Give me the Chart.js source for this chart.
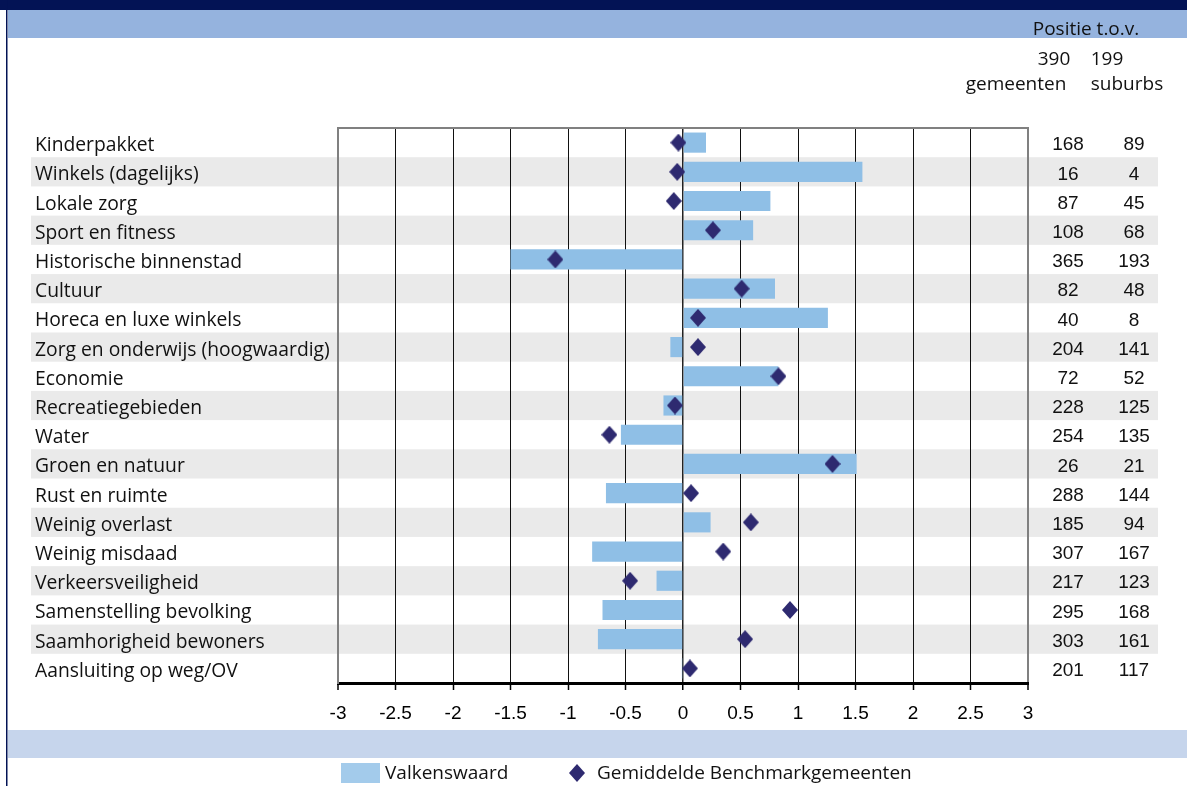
<!DOCTYPE html>
<html><head><meta charset="utf-8">
<script src="https://cdn.jsdelivr.net/npm/chart.js@4.4.1/dist/chart.umd.min.js"></script>
<style>html,body{margin:0;padding:0;background:#fff;overflow:hidden}
#wrap{position:relative;width:1187px;height:786px}</style>
</head><body><div id="wrap"><canvas id="c" width="1187" height="786"></canvas></div>
<script>
const categories = ["Kinderpakket","Winkels (dagelijks)","Lokale zorg","Sport en fitness","Historische binnenstad","Cultuur","Horeca en luxe winkels","Zorg en onderwijs (hoogwaardig)","Economie","Recreatiegebieden","Water","Groen en natuur","Rust en ruimte","Weinig overlast","Weinig misdaad","Verkeersveiligheid","Samenstelling bevolking","Saamhorigheid bewoners","Aansluiting op weg/OV"];
const valkenswaard = [0.20,1.56,0.76,0.61,-1.50,0.80,1.26,-0.11,0.83,-0.17,-0.54,1.51,-0.67,0.24,-0.79,-0.23,-0.70,-0.74,-0.01];
const benchmark = [-0.04,-0.05,-0.08,0.26,-1.11,0.51,0.13,0.13,0.83,-0.07,-0.64,1.30,0.07,0.59,0.35,-0.46,0.93,0.54,0.06];
const rankGemeenten = [168,16,87,108,365,82,40,204,72,228,254,26,288,185,307,217,295,303,201];
const rankSuburbs = [89,4,45,68,193,48,8,141,52,125,135,21,144,94,167,123,168,161,117];
const xTickValues = [-3,-2.5,-2,-1.5,-1,-0.5,0,0.5,1,1.5,2,2.5,3];
const seriesNames = ["Valkenswaard","Gemiddelde Benchmarkgemeenten"];
const headerTitle = "Positie t.o.v.";
const headerCounts = ["390","199"];
const headerGroups = ["gemeenten","suburbs"];

const BAR = '#8FBFE6', DIA = '#2E2A70', NAVY = '#031355';
const LABEL_FONT = '"Open Sans", sans-serif';
const NUM_FONT = '"Liberation Sans", Arial, sans-serif';

function diamondImg(w, h, color) {
  const c = document.createElement('canvas'); c.width = w; c.height = h;
  const g = c.getContext('2d'); g.fillStyle = color;
  g.beginPath(); g.moveTo(w/2,0); g.lineTo(w,h/2); g.lineTo(w/2,h); g.lineTo(0,h/2); g.closePath(); g.fill();
  return c;
}
const dia = diamondImg(16, 18, DIA);

const deco = {
  id: 'deco',
  beforeDraw(chart) {
    const ctx = chart.ctx, y = chart.scales.y, W = chart.width, H = chart.height;
    ctx.save();
    ctx.fillStyle = '#fff'; ctx.fillRect(0,0,W,H);
    ctx.fillStyle = NAVY; ctx.fillRect(0,0,W,10);
    ctx.fillStyle = '#95B3DE'; ctx.fillRect(8,10,W-8,28);
    ctx.fillStyle = '#C6D5EC'; ctx.fillRect(8,730,W-8,28);
    const rowH = Math.abs(y.getPixelForValue(1) - y.getPixelForValue(0));
    ctx.fillStyle = '#EAEAEA';
    categories.forEach((c,i) => {
      if (i % 2 === 1) {
        const cy = y.getPixelForValue(i);
        ctx.fillRect(31, cy - rowH/2, 1158-31, rowH);
      }
    });
    ctx.fillStyle = NAVY; ctx.fillRect(6,0,1.5,H);
    ctx.restore();
  },
  afterDraw(chart) {
    const ctx = chart.ctx, y = chart.scales.y, a = chart.chartArea;
    ctx.save();
    ctx.strokeStyle = '#808080'; ctx.lineWidth = 2;
    ctx.beginPath(); ctx.moveTo(a.left-1, a.top); ctx.lineTo(a.right+1, a.top); ctx.stroke();
    ctx.fillStyle = '#111'; ctx.textBaseline = 'middle'; ctx.textAlign = 'center';
    ctx.font = '19px ' + LABEL_FONT;
    ctx.fillText(headerTitle, 1086, 30);
    ctx.fillText(headerCounts[0], 1054, 60);
    ctx.fillText(headerCounts[1], 1107, 60);
    ctx.fillText(headerGroups[0], 1016, 85);
    ctx.fillText(headerGroups[1], 1127, 85);
    ctx.font = '19px ' + NUM_FONT;
    categories.forEach((c,i) => {
      const cy = y.getPixelForValue(i) + 2.5;
      ctx.fillText(String(rankGemeenten[i]), 1068, cy);
      ctx.fillText(String(rankSuburbs[i]), 1134, cy);
    });
    // legend
    ctx.fillStyle = '#A3CBEB'; ctx.fillRect(341, 763, 39, 20);
    ctx.drawImage(dia, 569, 764);
    ctx.fillStyle = '#111'; ctx.textAlign = 'left'; ctx.font = '19px ' + LABEL_FONT;
    ctx.fillText(seriesNames[0], 385, 774);
    ctx.fillText(seriesNames[1], 597, 774);
    ctx.restore();
  }
};

new Chart(document.getElementById('c'), {
  data: {
    labels: categories,
    datasets: [
      { type: 'line', label: seriesNames[1], data: benchmark, showLine: false,
        pointStyle: dia, pointRadius: 8, pointHoverRadius: 8, order: 0 },
      { type: 'bar', label: seriesNames[0], data: valkenswaard, backgroundColor: BAR,
        borderWidth: 0, barPercentage: 0.69, categoryPercentage: 1, order: 1 }
    ]
  },
  options: {
    indexAxis: 'y', responsive: false, animation: false,
    layout: { padding: { left: 35, right: 159, top: 128, bottom: 0 } },
    plugins: { legend: { display: false }, tooltip: { enabled: false } },
    scales: {
      x: {
        type: 'linear', min: -3, max: 3,
        afterBuildTicks(s) { s.ticks = xTickValues.map(v => ({ value: v })); },
        afterFit(s) { s.height = 103; },
        ticks: { color: '#000', font: { family: NUM_FONT, size: 19 }, padding: 12,
                 callback: v => String(v), maxRotation: 0, autoSkip: false },
        border: { display: true, color: '#000', width: 3 },
        grid: {
          drawTicks: true, tickLength: 7, tickColor: '#000', tickWidth: 1.5,
          color: c => (c.index === 0 || c.index === xTickValues.length - 1) ? '#808080' : (xTickValues[c.index] === 0 ? '#222' : '#111'),
          lineWidth: c => (c.index === 0 || c.index === xTickValues.length - 1) ? 2 : (xTickValues[c.index] === 0 ? 1.5 : 1)
        }
      },
      y: {
        type: 'category', offset: true,
        afterFit(s) { s.width = 303; },
        ticks: { color: '#111', crossAlign: 'far', padding: 0, labelOffset: 3, font: { family: LABEL_FONT, size: 19.3 } },
        grid: { display: false, drawTicks: false },
        border: { display: true, color: '#808080', width: 2 }
      }
    }
  },
  plugins: [deco]
});
</script></body></html>
